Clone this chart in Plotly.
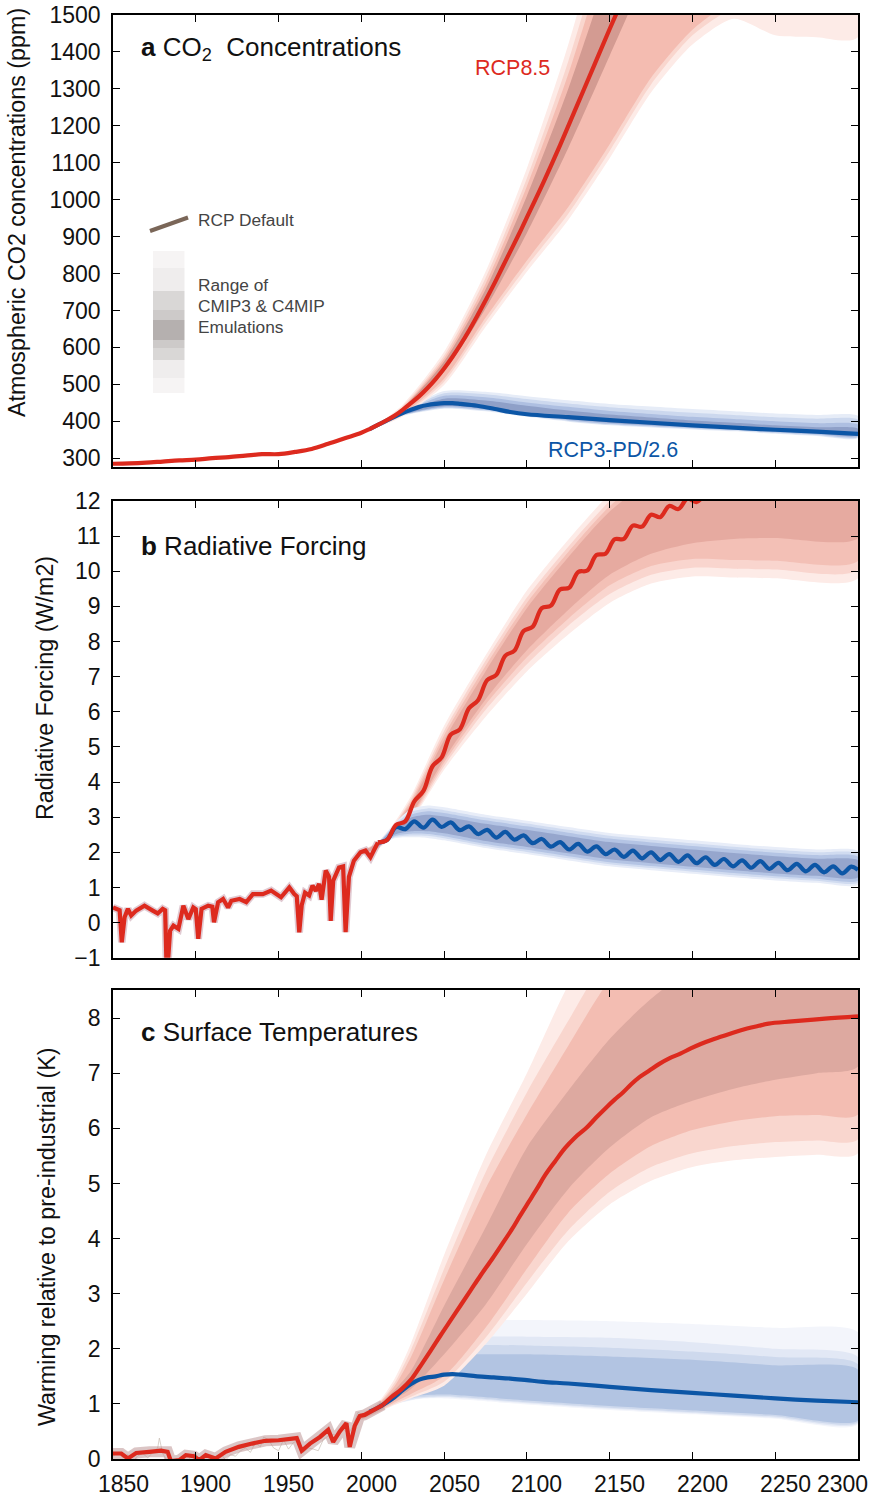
import plotly.graph_objects as go

# ---------------- DATA ----------------
X_TICKS = [1850, 1900, 1950, 2000, 2050, 2100, 2150, 2200, 2250, 2300]
A_YTICKS = [300, 400, 500, 600, 700, 800, 900, 1000, 1100, 1200, 1300, 1400, 1500]
B_YTICKS = [-1, 0, 1, 2, 3, 4, 5, 6, 7, 8, 9, 10, 11, 12]
C_YTICKS = [0, 1, 2, 3, 4, 5, 6, 7, 8]

# Panel a: CO2 concentrations (ppm)
CO2_RED_YEARS = [1850, 1860, 1870, 1880, 1890, 1900, 1910, 1920, 1930, 1940, 1950, 1960, 1970, 1980, 1990, 2000,
                 2005, 2010, 2015, 2020, 2025, 2030, 2035, 2040, 2045, 2050, 2055, 2060, 2065, 2070, 2075, 2080,
                 2085, 2090, 2095, 2100, 2110, 2120, 2130, 2140, 2150, 2160]
CO2_RED = [285, 286, 288, 291, 294, 296, 300, 303, 307, 311, 311, 317, 325, 339, 354, 369,
           379, 390, 402, 415, 431, 449, 468, 490, 515, 543, 574, 608, 645, 685, 727, 770,
           815, 860, 905, 952, 1047, 1147, 1252, 1357, 1462, 1565]
CO2_BLUE_YEARS = [2005, 2010, 2015, 2020, 2025, 2030, 2035, 2040, 2045, 2050, 2055, 2060, 2070, 2080, 2090, 2100,
                  2125, 2150, 2175, 2200, 2225, 2250, 2275, 2300]
CO2_BLUE = [379, 390, 401, 412, 422, 431, 439, 444, 447, 449, 449, 447, 442, 434, 425, 419,
            411, 403, 396, 389, 383, 377, 372, 366]

A_RED_BAND_YEARS = [2000, 2010, 2025, 2050, 2075, 2100, 2125, 2150, 2175, 2200, 2225, 2250, 2275, 2300]
A_RED_L1_HI = [371, 394, 445, 588, 805, 1085, 1420, 1820, 2200, 2500, 2700, 2850, 2950, 3000]
A_RED_L2_HI = [370, 393, 441, 578, 788, 1058, 1375, 1750, 2110, 2400, 2600, 2750, 2850, 2900]
A_RED_L3_HI = [370, 392, 438, 570, 772, 1036, 1340, 1700, 2050, 2330, 2520, 2650, 2750, 2800]
A_RED_L4_HI = [370, 391, 436, 562, 757, 1010, 1300, 1630, 1960, 2230, 2420, 2550, 2640, 2700]
A_RED_L4_LO = [368, 389, 428, 535, 705, 910, 1140, 1390, 1640, 1860, 2000, 2100, 2150, 2180]
A_RED_L3_LO = [367, 386, 419, 515, 680, 835, 980, 1150, 1330, 1460, 1540, 1570, 1580, 1590]
A_RED_L2_LO = [366, 385, 416, 507, 668, 820, 962, 1132, 1312, 1445, 1520, 1550, 1560, 1565]
A_RED_L1_LO = [366, 384, 413, 498, 655, 805, 945, 1112, 1290, 1420, 1490, 1445, 1440, 1440]

A_BLUE_BAND_YEARS = [2005, 2010, 2025, 2050, 2075, 2100, 2125, 2150, 2175, 2200, 2225, 2250, 2275, 2300]
A_BLUE_L1_HI = [380, 391, 428, 482, 480, 468, 457, 447, 440, 433, 427, 421, 417, 414]
A_BLUE_L2_HI = [380, 391, 426, 476, 473, 460, 448, 438, 430, 423, 417, 411, 407, 404]
A_BLUE_L3_HI = [380, 390.5, 424, 469, 465, 451, 439, 428, 420, 412, 406, 400, 395, 391]
A_BLUE_L4_HI = [379.5, 390.3, 422.5, 461, 456, 442, 429, 418, 410, 402, 396, 389, 384, 380]
A_BLUE_L4_LO = [378.5, 389.5, 418, 441, 434, 419, 406, 396, 390, 385, 380, 373, 367, 362]
A_BLUE_L3_LO = [378, 389, 416.5, 438, 431, 416, 403, 393, 387, 382, 377, 370, 364, 359]
A_BLUE_L2_LO = [378, 388.7, 415.5, 436, 429, 414, 401, 391, 385, 380, 375, 368, 362, 357]
A_BLUE_L1_LO = [378, 388.5, 414.5, 434, 427, 412, 399, 389, 383, 378, 373, 366, 360, 355]

# Panel b: radiative forcing (W/m2)
FORC_HIST_YEARS = [1850, 1852, 1854, 1855.3, 1857, 1859, 1861, 1864, 1869, 1874,
                   1877, 1880, 1881.5, 1882.5, 1884.5, 1886.5, 1889.5, 1892.5, 1895.5, 1898.5,
                   1900, 1901.5, 1903.5, 1907.5, 1910, 1911, 1913.5, 1916.5, 1919.5, 1921.5,
                   1926.5, 1930.5, 1934.5, 1940.5, 1945.5, 1951.5, 1956.5, 1959.5, 1961, 1962.5,
                   1964, 1966, 1968.5, 1970.5, 1972.5, 1974.5, 1976, 1978.5, 1980.5, 1981.5,
                   1983, 1986.5, 1989, 1990.5, 1992.5, 1995.5, 1999.5, 2002.5, 2005.5, 2010]
FORC_HIST = [0.43, 0.40, 0.35, -0.56, 0.15, 0.39, 0.20, 0.34, 0.48, 0.34,
             0.26, 0.39, 0.35, -1.6, -0.23, -0.09, -0.18, 0.48, 0.10, 0.43,
             0.38, -0.46, 0.39, 0.48, 0.45, 0.01, 0.58, 0.67, 0.43, 0.62,
             0.67, 0.58, 0.81, 0.81, 0.91, 0.72, 1.00, 0.81, 0.75, -0.28,
             0.50, 0.85, 0.77, 1.05, 0.90, 1.10, 0.65, 1.48, 1.30, 0.05,
             1.19, 1.57, 1.60, -0.27, 1.30, 1.76, 2.00, 2.05, 1.86, 2.28]
FORC_RED_YEARS = [2010, 2015.5, 2021, 2026.5, 2032, 2037.5, 2043, 2048.5, 2054, 2059.5,
                  2065, 2070.5, 2076, 2081.5, 2087, 2092.5, 2098, 2103.5, 2109, 2114.5,
                  2120, 2125.5, 2131, 2136.5, 2142, 2147.5, 2153, 2158.5, 2164, 2169.5,
                  2175, 2180.5, 2186, 2191.5, 2197, 2202.5, 2208]
FORC_RED = [2.28, 2.35, 2.78, 2.88, 3.45, 3.75, 4.45, 4.70, 5.35, 5.50,
            6.10, 6.33, 6.90, 7.05, 7.60, 7.74, 8.30, 8.42, 8.95, 9.02,
            9.48, 9.53, 9.98, 10.02, 10.46, 10.50, 10.91, 10.92, 11.30, 11.27,
            11.61, 11.54, 11.86, 11.77, 12.07, 11.97, 12.25]
FORC_BLUE_YEARS = [2010, 2015.5, 2021, 2026.5, 2032, 2037.5, 2043, 2048.5, 2054, 2059.5,
                   2065, 2070.5, 2076, 2081.5, 2087, 2092.5, 2098, 2103.5, 2109, 2114.5,
                   2120, 2125.5, 2131, 2136.5, 2142, 2147.5, 2153, 2158.5, 2164, 2169.5,
                   2175, 2180.5, 2186, 2191.5, 2197, 2202.5, 2208, 2213.5, 2219, 2224.5,
                   2230, 2235.5, 2241, 2246.5, 2252, 2257.5, 2263, 2268.5, 2274, 2279.5,
                   2285, 2290.5, 2296, 2300]
FORC_BLUE = [2.28, 2.35, 2.72, 2.66, 2.88, 2.70, 2.93, 2.72, 2.85, 2.63,
             2.74, 2.52, 2.64, 2.42, 2.58, 2.36, 2.48, 2.26, 2.38, 2.16,
             2.29, 2.08, 2.24, 2.02, 2.17, 1.95, 2.08, 1.87, 2.05, 1.83,
             2.00, 1.78, 1.95, 1.73, 1.91, 1.69, 1.86, 1.64, 1.81, 1.60,
             1.77, 1.56, 1.75, 1.53, 1.70, 1.49, 1.67, 1.46, 1.64, 1.43,
             1.60, 1.40, 1.59, 1.50]

B_RED_BAND_YEARS = [2000, 2010, 2020, 2030, 2050, 2075, 2100, 2125, 2150, 2175, 2200, 2225, 2250, 2300]
B_RED_L1_HI = [2.05, 2.30, 2.85, 3.60, 5.60, 7.60, 9.45, 10.90, 12.20, 13.20, 13.80, 14.20, 14.30, 14.30]
B_RED_L2_HI = [2.04, 2.28, 2.80, 3.52, 5.45, 7.45, 9.25, 10.70, 12.00, 13.00, 13.60, 14.00, 14.10, 14.10]
B_RED_L3_HI = [2.03, 2.26, 2.77, 3.45, 5.33, 7.30, 9.10, 10.55, 11.85, 12.80, 13.40, 13.80, 13.90, 13.90]
B_RED_L4_HI = [2.02, 2.25, 2.74, 3.38, 5.20, 7.15, 8.95, 10.40, 11.70, 12.60, 13.20, 13.60, 13.70, 13.70]
B_RED_L4_LO = [1.97, 2.15, 2.58, 3.05, 4.65, 6.35, 7.75, 8.90, 9.90, 10.50, 10.80, 10.92, 10.95, 10.95]
B_RED_L3_LO = [1.96, 2.13, 2.55, 3.00, 4.55, 6.20, 7.55, 8.65, 9.60, 10.15, 10.35, 10.32, 10.30, 10.30]
B_RED_L2_LO = [1.95, 2.12, 2.52, 2.95, 4.45, 6.05, 7.35, 8.45, 9.35, 9.90, 10.10, 10.07, 10.05, 10.05]
B_RED_L1_LO = [1.94, 2.10, 2.48, 2.90, 4.35, 5.85, 7.15, 8.20, 9.10, 9.65, 9.85, 9.82, 9.80, 9.80]

B_BLUE_BAND_YEARS = [2010, 2020, 2030, 2040, 2050, 2075, 2100, 2125, 2150, 2175, 2200, 2225, 2250, 2275, 2300]
B_BLUE_L1_HI = [2.26, 2.82, 3.23, 3.33, 3.28, 3.07, 2.90, 2.72, 2.55, 2.44, 2.34, 2.24, 2.15, 2.08, 2.03]
B_BLUE_L2_HI = [2.25, 2.78, 3.15, 3.25, 3.20, 2.99, 2.82, 2.64, 2.47, 2.36, 2.26, 2.16, 2.07, 2.00, 1.95]
B_BLUE_L3_HI = [2.24, 2.74, 3.07, 3.17, 3.12, 2.91, 2.74, 2.56, 2.39, 2.28, 2.18, 2.08, 1.99, 1.92, 1.87]
B_BLUE_L4_HI = [2.23, 2.70, 2.99, 3.07, 3.02, 2.81, 2.64, 2.46, 2.29, 2.18, 2.08, 1.98, 1.89, 1.82, 1.77]
B_BLUE_L4_LO = [2.16, 2.50, 2.60, 2.60, 2.54, 2.32, 2.15, 1.97, 1.80, 1.69, 1.59, 1.49, 1.40, 1.33, 1.28]
B_BLUE_L3_LO = [2.15, 2.46, 2.53, 2.52, 2.46, 2.24, 2.07, 1.89, 1.72, 1.61, 1.51, 1.41, 1.32, 1.25, 1.20]
B_BLUE_L2_LO = [2.14, 2.43, 2.48, 2.47, 2.40, 2.18, 2.01, 1.83, 1.66, 1.55, 1.45, 1.35, 1.26, 1.19, 1.14]
B_BLUE_L1_LO = [2.13, 2.40, 2.43, 2.41, 2.34, 2.12, 1.95, 1.77, 1.60, 1.49, 1.39, 1.29, 1.20, 1.13, 1.08]

# Panel c: surface temperature (K above pre-industrial)
TEMP_RED_YEARS = [1850, 1855, 1859, 1864, 1872, 1879, 1883, 1885, 1890, 1894,
                  1899, 1902, 1906, 1912, 1918, 1926, 1934, 1942, 1950, 1958,
                  1961, 1964, 1969, 1975, 1980, 1983, 1987, 1991, 1993, 1996,
                  1999, 2002, 2007, 2013, 2018, 2024, 2030, 2036, 2042, 2048,
                  2054, 2060, 2066, 2072, 2079, 2085, 2091, 2096, 2101, 2106,
                  2111, 2117, 2123, 2129, 2136, 2142, 2148, 2153, 2158, 2163,
                  2168, 2174, 2180, 2186, 2193, 2199, 2205, 2211, 2217, 2225,
                  2233, 2240, 2246, 2260, 2280, 2300]
TEMP_RED = [0.10, 0.10, 0.01, 0.11, 0.13, 0.15, 0.13, -0.04, -0.02, 0.07,
            0.05, -0.02, 0.07, 0.01, 0.13, 0.22, 0.28, 0.33, 0.34, 0.37,
            0.38, 0.15, 0.28, 0.40, 0.53, 0.31, 0.50, 0.65, 0.22, 0.60,
            0.78, 0.80, 0.88, 0.98, 1.12, 1.26, 1.44, 1.70, 1.97, 2.25,
            2.52, 2.79, 3.06, 3.33, 3.63, 3.90, 4.17, 4.42, 4.66, 4.90,
            5.15, 5.40, 5.64, 5.83, 6.01, 6.20, 6.38, 6.52, 6.65, 6.80,
            6.93, 7.05, 7.17, 7.27, 7.36, 7.45, 7.53, 7.60, 7.66, 7.74,
            7.81, 7.86, 7.90, 7.94, 7.99, 8.03]
TEMP_BLUE_YEARS = [2005, 2010, 2015, 2020, 2025, 2030, 2035, 2040, 2045, 2050, 2055, 2060, 2070,
                   2080, 2090, 2100, 2110, 2125, 2150, 2175, 2200, 2225, 2250, 2275, 2300]
TEMP_BLUE = [0.86, 0.93, 1.02, 1.12, 1.25, 1.36, 1.44, 1.48, 1.50, 1.53, 1.54, 1.53, 1.50,
             1.48, 1.46, 1.43, 1.40, 1.37, 1.31, 1.25, 1.20, 1.15, 1.10, 1.06, 1.03]
OBS_YEARS = [1850, 1853, 1856, 1859, 1862, 1865, 1868, 1871, 1874, 1877,
             1878, 1880, 1883, 1885, 1888, 1891, 1894, 1897, 1900, 1903,
             1906, 1909, 1912, 1915, 1918, 1921, 1924, 1927, 1930, 1933,
             1936, 1939, 1941, 1944, 1947, 1950, 1953, 1956, 1959, 1962,
             1965, 1968, 1971, 1974, 1977, 1980, 1983, 1986, 1989, 1992,
             1995, 1998, 2001, 2004, 2007]
OBS = [0.05, 0.12, 0.02, 0.08, -0.05, 0.06, 0.10, 0.02, 0.12, 0.20,
       0.38, 0.10, -0.05, -0.30, -0.10, 0.00, -0.12, 0.05, 0.12, -0.17,
       -0.10, -0.12, 0.00, 0.10, -0.02, 0.08, 0.05, 0.15, 0.20, 0.12,
       0.30, 0.22, 0.40, 0.35, 0.20, 0.15, 0.35, 0.18, 0.30, 0.33,
       0.12, 0.20, 0.18, 0.15, 0.35, 0.42, 0.45, 0.40, 0.55, 0.45,
       0.60, 0.85, 0.80, 0.85, 0.90]

C_RED_BAND_YEARS = [2000, 2010, 2020, 2030, 2050, 2075, 2100, 2125, 2150, 2175, 2200, 2225, 2250, 2275, 2300]
C_RED_L1_HI = [0.83, 1.02, 1.45, 2.10, 3.70, 5.50, 7.00, 8.60, 9.80, 10.5, 11.0, 11.3, 11.5, 11.6, 11.7]
C_RED_L2_HI = [0.82, 1.00, 1.38, 1.98, 3.45, 5.20, 6.65, 7.95, 9.20, 10.0, 10.5, 10.8, 11.0, 11.1, 11.2]
C_RED_L3_HI = [0.81, 0.99, 1.32, 1.85, 3.25, 4.90, 6.25, 7.50, 8.70, 9.50, 10.0, 10.3, 10.5, 10.6, 10.7]
C_RED_L4_HI = [0.80, 0.97, 1.25, 1.60, 2.78, 4.20, 5.65, 6.68, 7.62, 8.35, 8.90, 9.15, 9.30, 9.40, 9.50]
C_RED_L4_LO = [0.74, 0.88, 1.08, 1.27, 1.90, 2.80, 3.90, 4.90, 5.65, 6.20, 6.50, 6.72, 6.88, 7.00, 7.12]
C_RED_L3_LO = [0.72, 0.86, 1.03, 1.18, 1.50, 2.38, 3.45, 4.47, 5.18, 5.68, 5.97, 6.13, 6.22, 6.24, 6.25]
C_RED_L2_LO = [0.71, 0.85, 1.00, 1.13, 1.40, 2.20, 3.20, 4.15, 4.85, 5.30, 5.55, 5.68, 5.75, 5.78, 5.80]
C_RED_L1_LO = [0.70, 0.84, 0.98, 1.10, 1.33, 2.08, 3.00, 3.95, 4.62, 5.05, 5.30, 5.42, 5.48, 5.52, 5.55]

C_BLUE_BAND_YEARS = [2005, 2015, 2025, 2035, 2050, 2075, 2100, 2150, 2200, 2250, 2300]
C_BLUE_L1_HI = [0.88, 1.15, 1.60, 2.10, 2.45, 2.52, 2.52, 2.50, 2.45, 2.38, 2.30]
C_BLUE_L2_HI = [0.87, 1.12, 1.50, 1.95, 2.20, 2.22, 2.22, 2.20, 2.12, 2.00, 1.85]
C_BLUE_L3_HI = [0.86, 1.10, 1.45, 1.82, 2.05, 2.07, 2.06, 2.02, 1.95, 1.85, 1.72]
C_BLUE_L4_HI = [0.86, 1.08, 1.40, 1.72, 1.88, 1.90, 1.90, 1.86, 1.80, 1.70, 1.62]
C_BLUE_L4_LO = [0.82, 0.97, 1.08, 1.15, 1.17, 1.12, 1.06, 0.96, 0.88, 0.80, 0.70]
C_BLUE_L3_LO = [0.81, 0.96, 1.06, 1.12, 1.14, 1.09, 1.03, 0.93, 0.85, 0.77, 0.67]
C_BLUE_L2_LO = [0.80, 0.95, 1.04, 1.10, 1.12, 1.07, 1.01, 0.91, 0.83, 0.75, 0.65]
C_BLUE_L1_LO = [0.80, 0.94, 1.03, 1.09, 1.10, 1.05, 0.99, 0.89, 0.81, 0.73, 0.63]

# ---------------- STYLE / LAYOUT ----------------
W, H = 872, 1497
FONT = "Liberation Sans, Arial, Helvetica, sans-serif"
RED = "rgb(221,42,30)"
BLUE = "rgb(12,86,166)"


def px(x):
    return x / W


def py(y):
    return 1 - y / H


RED_COLS = {
    "a": ["rgb(253,235,231)", "rgb(249,214,206)", "rgb(244,188,177)", "rgb(211,155,146)"],
    "b": ["rgb(253,235,231)", "rgb(249,213,206)", "rgb(243,192,182)", "rgb(230,170,160)"],
    "c": ["rgb(253,235,231)", "rgb(249,214,206)", "rgb(243,189,178)", "rgb(221,169,160)"],
}
BLUE_COLS = {
    "a": ["rgb(230,236,247)", "rgb(204,216,238)", "rgb(174,191,225)", "rgb(143,160,200)"],
    "b": ["rgb(232,237,248)", "rgb(208,219,240)", "rgb(180,196,228)", "rgb(150,166,205)"],
    "c": ["rgb(243,245,251)", "rgb(226,232,245)", "rgb(206,217,237)", "rgb(178,196,226)"],
}

fig = go.Figure()


def add_band(ax, years, lo, hi, color):
    xs = list(years) + list(years)[::-1]
    ys = list(hi) + list(lo)[::-1]
    fig.add_trace(go.Scatter(
        x=xs, y=ys, xaxis="x" + ax, yaxis="y" + ax, mode="lines",
        line=dict(width=0, shape="spline", smoothing=0.7),
        fill="toself", fillcolor=color, hoverinfo="skip", showlegend=False))


def add_line(ax, x, y, color, width, shape="linear"):
    fig.add_trace(go.Scatter(
        x=x, y=y, xaxis="x" + ax, yaxis="y" + ax, mode="lines",
        line=dict(color=color, width=width, shape=shape),
        hoverinfo="skip", showlegend=False))


# ----- Panel a -----
a_blue = [(A_BLUE_L1_LO, A_BLUE_L1_HI), (A_BLUE_L2_LO, A_BLUE_L2_HI),
          (A_BLUE_L3_LO, A_BLUE_L3_HI), (A_BLUE_L4_LO, A_BLUE_L4_HI)]
for (lo, hi), col in zip(a_blue, BLUE_COLS["a"]):
    add_band("", A_BLUE_BAND_YEARS, lo, hi, col)
a_red = [(A_RED_L1_LO, A_RED_L1_HI), (A_RED_L2_LO, A_RED_L2_HI),
         (A_RED_L3_LO, A_RED_L3_HI), (A_RED_L4_LO, A_RED_L4_HI)]
for (lo, hi), col in zip(a_red, RED_COLS["a"]):
    add_band("", A_RED_BAND_YEARS, lo, hi, col)
add_line("", CO2_BLUE_YEARS, CO2_BLUE, BLUE, 4.2, "spline")
add_line("", CO2_RED_YEARS, CO2_RED, RED, 4.2, "spline")

# ----- Panel b -----
b_blue = [(B_BLUE_L1_LO, B_BLUE_L1_HI), (B_BLUE_L2_LO, B_BLUE_L2_HI),
          (B_BLUE_L3_LO, B_BLUE_L3_HI), (B_BLUE_L4_LO, B_BLUE_L4_HI)]
b_red = [(B_RED_L1_LO, B_RED_L1_HI), (B_RED_L2_LO, B_RED_L2_HI),
         (B_RED_L3_LO, B_RED_L3_HI), (B_RED_L4_LO, B_RED_L4_HI)]
for (lo, hi), col in zip(b_red, RED_COLS["b"]):
    add_band("2", B_RED_BAND_YEARS, lo, hi, col)
for (lo, hi), col in zip(b_blue, BLUE_COLS["b"]):
    add_band("2", B_BLUE_BAND_YEARS, lo, hi, col)
add_line("2", FORC_HIST_YEARS, FORC_HIST, "rgba(195,150,165,0.5)", 7.5)
add_line("2", FORC_BLUE_YEARS, FORC_BLUE, BLUE, 4.2, "spline")
add_line("2", FORC_RED_YEARS, FORC_RED, RED, 4.2, "spline")
add_line("2", FORC_HIST_YEARS, FORC_HIST, RED, 4.2)

# ----- Panel c -----
c_blue = [(C_BLUE_L1_LO, C_BLUE_L1_HI), (C_BLUE_L2_LO, C_BLUE_L2_HI),
          (C_BLUE_L3_LO, C_BLUE_L3_HI), (C_BLUE_L4_LO, C_BLUE_L4_HI)]
c_red = [(C_RED_L1_LO, C_RED_L1_HI), (C_RED_L2_LO, C_RED_L2_HI),
         (C_RED_L3_LO, C_RED_L3_HI), (C_RED_L4_LO, C_RED_L4_HI)]
for (lo, hi), col in zip(c_blue, BLUE_COLS["c"]):
    add_band("3", C_BLUE_BAND_YEARS, lo, hi, col)
for (lo, hi), col in zip(c_red, RED_COLS["c"]):
    add_band("3", C_RED_BAND_YEARS, lo, hi, col)
add_line("3", OBS_YEARS, OBS, "rgba(200,190,180,0.7)", 1)
k_hist = TEMP_RED_YEARS.index(2013)
add_line("3", TEMP_RED_YEARS[:k_hist + 1], TEMP_RED[:k_hist + 1], "rgba(190,150,150,0.55)", 11)
add_line("3", TEMP_BLUE_YEARS, TEMP_BLUE, BLUE, 4.2, "spline")
add_line("3", TEMP_RED_YEARS[:k_hist + 1], TEMP_RED[:k_hist + 1], RED, 4.2)
add_line("3", TEMP_RED_YEARS[k_hist:], TEMP_RED[k_hist:], RED, 4.2, "spline")

# ----- Axes -----
X_DOM = [px(113), px(858)]
common_x = dict(range=[1850, 2300], tickvals=X_TICKS, showticklabels=False, ticks="inside",
                ticklen=7, tickwidth=1, tickcolor="black", showline=True, linecolor="black",
                linewidth=1.6, mirror="ticks", showgrid=False, zeroline=False, domain=X_DOM,
                automargin=False)
common_y = dict(ticks="inside", ticklen=7, tickwidth=1, tickcolor="black", showline=True,
                linecolor="black", linewidth=1.6, mirror="ticks", showgrid=False, zeroline=False,
                tickfont=dict(family=FONT, size=23, color="#111"), ticklabelstandoff=6,
                automargin=False)

fig.update_layout(
    width=W, height=H, margin=dict(l=0, r=0, t=0, b=0, pad=0, autoexpand=False),
    plot_bgcolor="white", paper_bgcolor="white", showlegend=False,
    font=dict(family=FONT, color="#111"),
    xaxis=dict(common_x, anchor="y"),
    xaxis2=dict(common_x, anchor="y2"),
    xaxis3=dict(common_x, anchor="y3"),
    yaxis=dict(common_y, domain=[py(466.7), py(15)], range=[277, 1500], tickvals=A_YTICKS, anchor="x"),
    yaxis2=dict(common_y, domain=[py(957.7), py(501)], range=[-1, 12], tickvals=B_YTICKS, anchor="x2"),
    yaxis3=dict(common_y, domain=[py(1459), py(990)], range=[0, 8.51], tickvals=C_YTICKS, anchor="x3"),
)

ann = []
# x tick labels under panel c
for t in X_TICKS:
    ann.append(dict(x=t, xref="x3", y=py(1484), yref="paper", text=str(t), showarrow=False,
                    xanchor="center", yanchor="middle", xshift=(-16 if t == 2300 else 10),
                    font=dict(family=FONT, size=23, color="#111")))

# panel titles
TITLE_FONT = dict(family=FONT, size=26, color="#111")
ann.append(dict(x=px(139), y=py(49), xref="paper", yref="paper", showarrow=False, xanchor="left",
                yanchor="middle", text="<b>a</b> CO<sub>2</sub>\u00a0 Concentrations", font=TITLE_FONT))
ann.append(dict(x=px(139), y=py(546), xref="paper", yref="paper", showarrow=False, xanchor="left",
                yanchor="middle", text="<b>b</b> Radiative Forcing", font=TITLE_FONT))
ann.append(dict(x=px(139), y=py(1032), xref="paper", yref="paper", showarrow=False, xanchor="left",
                yanchor="middle", text="<b>c</b> Surface Temperatures", font=TITLE_FONT))

# y axis titles
YT_FONT = dict(family=FONT, size=23.3, color="#111")
ann.append(dict(x=px(17), y=py(213), xref="paper", yref="paper", showarrow=False, textangle=-90,
                xanchor="center", yanchor="middle", text="Atmospheric CO2 concentrations (ppm)", font=YT_FONT))
ann.append(dict(x=px(45), y=py(688), xref="paper", yref="paper", showarrow=False, textangle=-90,
                xanchor="center", yanchor="middle", text="Radiative Forcing (W/m2)", font=YT_FONT))
ann.append(dict(x=px(47), y=py(1237), xref="paper", yref="paper", showarrow=False, textangle=-90,
                xanchor="center", yanchor="middle", text="Warming relative to pre-industrial (K)", font=YT_FONT))

# scenario labels
ann.append(dict(x=px(473), y=py(68), xref="paper", yref="paper", showarrow=False, xanchor="left",
                yanchor="middle", text="RCP8.5", font=dict(family=FONT, size=21.5, color=RED)))
ann.append(dict(x=px(546), y=py(450), xref="paper", yref="paper", showarrow=False, xanchor="left",
                yanchor="middle", text="RCP3-PD/2.6", font=dict(family=FONT, size=21.5, color=BLUE)))

# legend texts
LEG_FONT = dict(family=FONT, size=17.3, color="#444")
LEG_LINES = [(220, "RCP Default"), (285, "Range of"), (306, "CMIP3 &amp; C4MIP"), (327, "Emulations")]
for yy, txt in LEG_LINES:
    ann.append(dict(x=px(196), y=py(yy), xref="paper", yref="paper", showarrow=False, xanchor="left",
                    yanchor="middle", align="left", text=txt, font=LEG_FONT))
fig.update_layout(annotations=ann)

# legend graphics (layout decorations in pixel space)
shapes = [dict(type="line", xref="paper", yref="paper", x0=px(150), y0=py(231), x1=px(188), y1=py(217.5),
               line=dict(color="rgb(122,102,88)", width=4))]
LEG_BLOCKS = [(251, 268, "rgb(246,244,244)"), (268, 291, "rgb(239,237,237)"), (291, 310, "rgb(217,215,214)"),
              (310, 320, "rgb(205,202,201)"), (320, 340, "rgb(181,176,175)"), (340, 348, "rgb(205,202,201)"),
              (348, 360, "rgb(217,215,214)"), (360, 378, "rgb(239,237,237)"), (378, 393, "rgb(246,244,244)")]
for y0, y1, col in LEG_BLOCKS:
    shapes.append(dict(type="rect", xref="paper", yref="paper", x0=px(153), x1=px(184.5),
                       y0=py(y1), y1=py(y0), fillcolor=col, line=dict(width=0), layer="above"))
fig.update_layout(shapes=shapes)

fig.write_html("out.html")
